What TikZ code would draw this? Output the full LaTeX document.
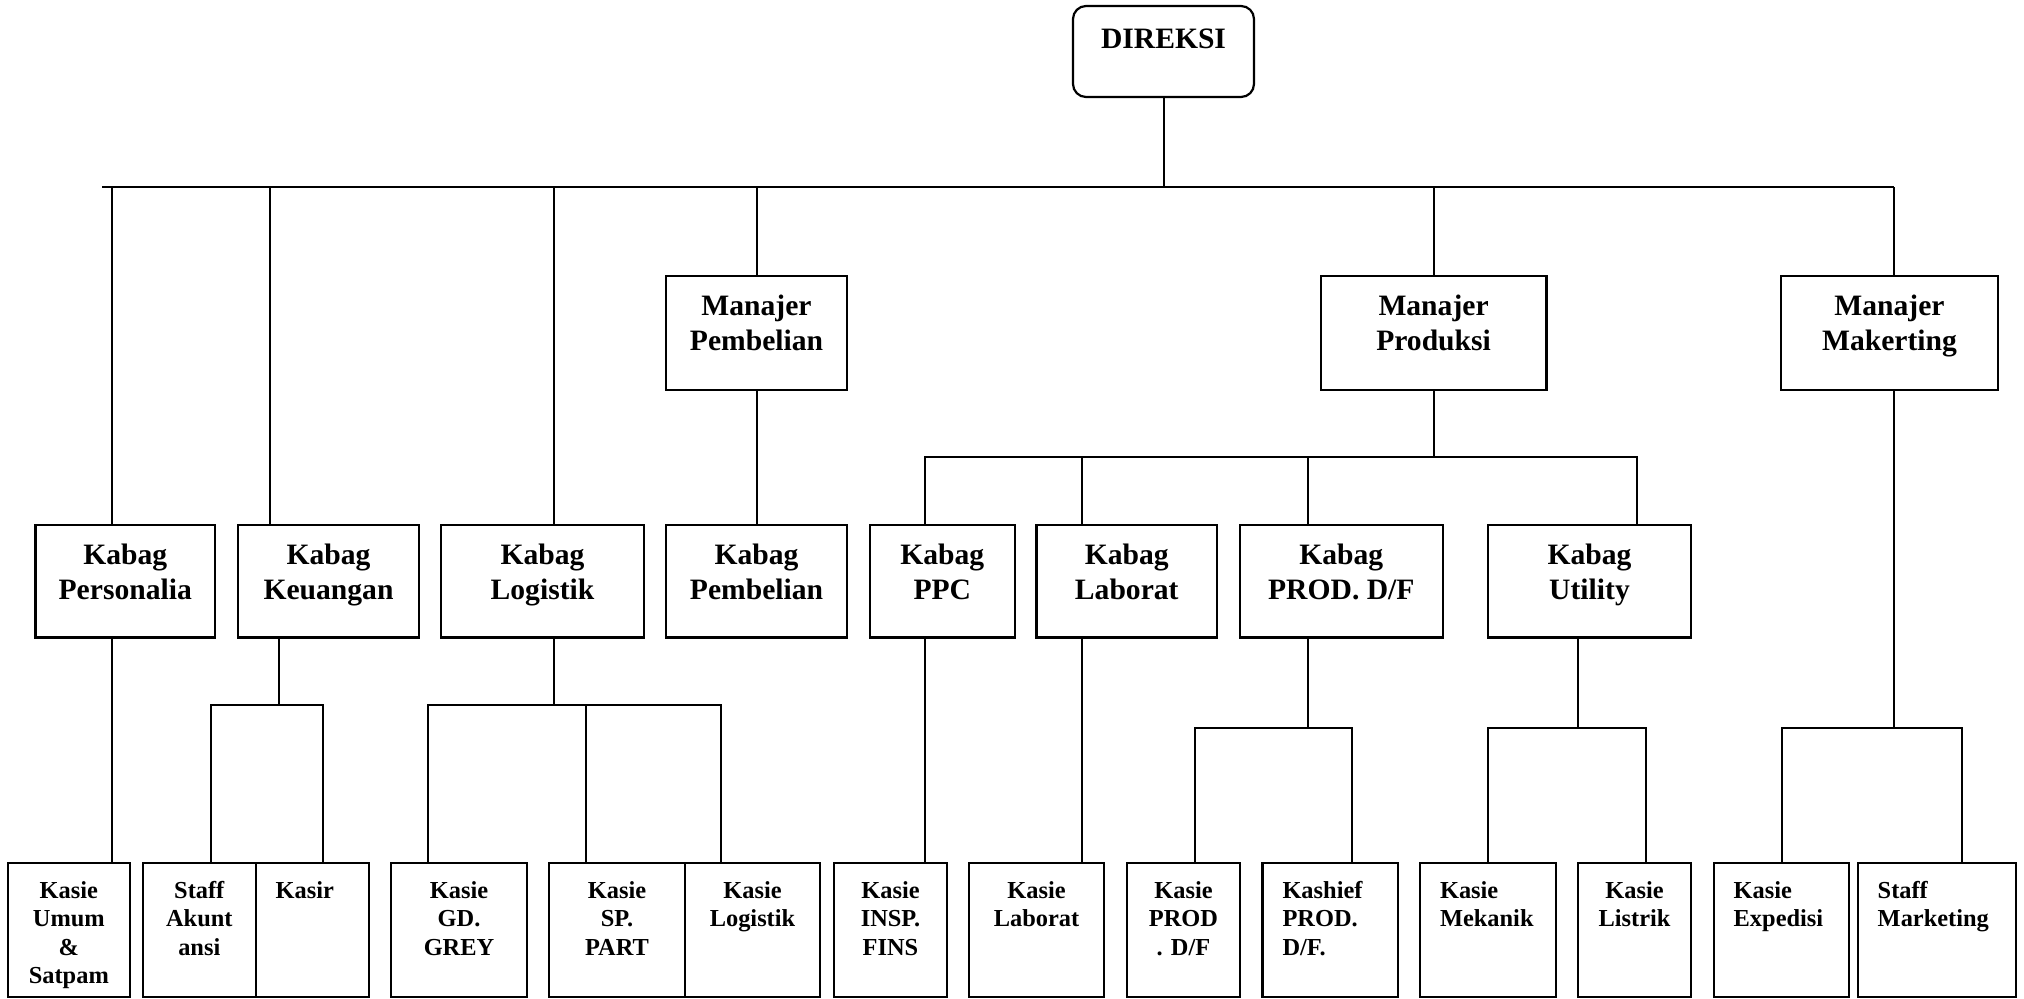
\documentclass[tikz,border=0pt]{standalone}
\usepackage{fontspec}
\setmainfont{Liberation Serif}

% box text: fixed-size parbox, lines hung from the top
% #1 width, #2 height, #3 depth of first baseline, #4 lines
\newcommand{\cbox}[4]{\parbox[c][#2][t]{#1}{\centering\rule{0pt}{#3}#4}}
\newcommand{\lbox}[4]{\parbox[c][#2][t]{#1}{\raggedright\hspace*{10pt}\rule{0pt}{#3}\begin{tabular}[t]{@{}l@{}}#4\end{tabular}}}

\tikzset{
  orgbox/.style={draw, line width=1.1pt, inner sep=0pt, rectangle},
  bigtext/.style={font=\fontsize{14.8}{17.5}\selectfont\bfseries},
  smalltext/.style={font=\fontsize{12.2}{14.25}\selectfont\bfseries},
  link/.style={line width=1pt}
}

\begin{document}
\begin{tikzpicture}[x=0.5pt, y=-0.5pt]
\useasboundingbox (0,0) rectangle (2024,998);

% top
\node[orgbox, bigtext, rounded corners=6.5pt] (dir) at (1163.5,51.5)
  {\cbox{90.5pt}{45.5pt}{21pt}{DIREKSI}};

% managers
\node[orgbox, bigtext] (mpemb) at (756.5,333) {\cbox{90.5pt}{57pt}{19.5pt}{Manajer\\Pembelian}};
\node[orgbox, bigtext] (mprod) at (1433.55,333) {\cbox{112.95pt}{57pt}{19.5pt}{Manajer\\Produksi}};
\node[orgbox, bigtext] (mmark) at (1889.5,333) {\cbox{108.5pt}{57pt}{19.5pt}{Manajer\\Makerting}};

% heads of department
\node[orgbox, bigtext] (kpers) at (125.25,581.25) {\cbox{89.75pt}{56.25pt}{19.5pt}{Kabag\\Personalia}};
\node[orgbox, bigtext] (kkeu) at (328.5,581.25) {\cbox{90.5pt}{56.25pt}{19.5pt}{Kabag\\Keuangan}};
\node[orgbox, bigtext] (klog) at (542.5,581.25) {\cbox{101.5pt}{56.25pt}{19.5pt}{Kabag\\Logistik}};
\node[orgbox, bigtext] (kpemb) at (756.5,581.25) {\cbox{90.5pt}{56.25pt}{19.5pt}{Kabag\\Pembelian}};
\node[orgbox, bigtext] (kppc) at (942.3,581.25) {\cbox{72.3pt}{56.25pt}{19.5pt}{Kabag\\PPC}};
\node[orgbox, bigtext] (klab) at (1126.75,581.25) {\cbox{90.25pt}{56.25pt}{19.5pt}{Kabag\\Laborat}};
\node[orgbox, bigtext] (kprod) at (1341.3,581.25) {\cbox{101.3pt}{56.25pt}{19.5pt}{Kabag\\PROD. D/F}};
\node[orgbox, bigtext] (kutil) at (1589.5,581.25) {\cbox{101.5pt}{56.25pt}{19.5pt}{Kabag\\Utility}};

% section heads and staff
\node[orgbox, smalltext] (kumum) at (68.85,930) {\cbox{61.15pt}{67pt}{17.5pt}{Kasie\\Umum\\\&\\Satpam}};
\node[orgbox, smalltext] (sakun) at (199.3,930) {\cbox{56.3pt}{67pt}{17.5pt}{Staff\\Akunt\\ansi}};
\node[orgbox, smalltext] (kasir) at (312.1,930) {\lbox{56.5pt}{67pt}{17.5pt}{Kasir}};
\node[orgbox, smalltext] (kgd) at (459,930) {\cbox{68pt}{67pt}{17.5pt}{Kasie\\GD.\\GREY}};
\node[orgbox, smalltext] (ksp) at (617,930) {\cbox{68pt}{67pt}{17.5pt}{Kasie\\SP.\\PART}};
\node[orgbox, smalltext] (klogk) at (752.5,930) {\cbox{67.5pt}{67pt}{17.5pt}{Kasie\\Logistik}};
\node[orgbox, smalltext] (kinsp) at (890.5,930) {\cbox{56.5pt}{67pt}{17.5pt}{Kasie\\INSP.\\FINS}};
\node[orgbox, smalltext] (klabk) at (1036.5,930) {\cbox{67.5pt}{67pt}{17.5pt}{Kasie\\Laborat}};
\node[orgbox, smalltext] (kprodk) at (1183.5,930) {\cbox{56.5pt}{67pt}{17.5pt}{Kasie\\PROD\\. D/F}};
\node[orgbox, smalltext] (kashief) at (1330.25,930) {\lbox{67.75pt}{67pt}{17.5pt}{Kashief\\PROD.\\D/F.}};
\node[orgbox, smalltext] (kmek) at (1487.8,930) {\lbox{67.8pt}{67pt}{17.5pt}{Kasie\\Mekanik}};
\node[orgbox, smalltext] (klis) at (1634.5,930) {\cbox{56.5pt}{67pt}{17.5pt}{Kasie\\Listrik}};
\node[orgbox, smalltext] (kexp) at (1781.2,930) {\lbox{67.5pt}{67pt}{17.5pt}{Kasie\\Expedisi}};
\node[orgbox, smalltext] (smark) at (1936.85,930) {\lbox{79.15pt}{67pt}{17.5pt}{Staff\\Marketing}};

% junction points
\coordinate (busW) at (102,187);
\coordinate (jPers) at (111.7,187);
\coordinate (jKeu) at (270,187);
\coordinate (jLog) at (554,187);
\coordinate (jPemb) at (756.6,187);
\coordinate (jProd) at (1433.6,187);
\coordinate (jMark) at (1894,187);

\coordinate (keuJ) at (279,705);
\coordinate (keuL) at (211,705);
\coordinate (keuR) at (323.4,705);

\coordinate (logL) at (428,705);
\coordinate (logM) at (585.5,705);
\coordinate (logR) at (721,705);

\coordinate (prodL) at (924.5,457);
\coordinate (labJ) at (1081.7,457);
\coordinate (pdfJ) at (1307.7,457);
\coordinate (prodR) at (1637,457);

\coordinate (pdfL) at (1194.7,728);
\coordinate (pdfR) at (1352,728);
\coordinate (utJ) at (1578,728);
\coordinate (utL) at (1487.8,728);
\coordinate (utR) at (1646,728);
\coordinate (mkL) at (1781.5,728);
\coordinate (mkR) at (1961.6,728);

% main bus
\draw[link] (dir.south) -- (dir.south |- busW);
\draw[link] (busW) -- (jMark);
\draw[link] (jPers) -- (jPers |- kpers.north);
\draw[link] (jPers |- kpers.south) -- (jPers |- kumum.north);
\draw[link] (jKeu) -- (jKeu |- kkeu.north);
\draw[link] (jLog) -- (jLog |- klog.north);
\draw[link] (jPemb) -- (jPemb |- mpemb.north);
\draw[link] (jPemb |- mpemb.south) -- (jPemb |- kpemb.north);
\draw[link] (jProd) -- (jProd |- mprod.north);
\draw[link] (jMark) -- (jMark |- mmark.north);

% finance
\draw[link] (keuJ |- kkeu.south) -- (keuJ);
\draw[link] (keuL |- sakun.north) -- (keuL) -- (keuR) -- (keuR |- kasir.north);

% logistics
\draw[link] (jLog |- klog.south) -- (jLog |- logL);
\draw[link] (logL |- kgd.north) -- (logL) -- (logR) -- (logR |- klogk.north);
\draw[link] (logM) -- (logM |- ksp.north);

% production
\draw[link] (jProd |- mprod.south) -- (jProd |- prodL);
\draw[link] (prodL |- kppc.north) -- (prodL) -- (prodR) -- (prodR |- kutil.north);
\draw[link] (labJ) -- (labJ |- klab.north);
\draw[link] (pdfJ) -- (pdfJ |- kprod.north);
\draw[link] (prodL |- kppc.south) -- (prodL |- kinsp.north);
\draw[link] (labJ |- klab.south) -- (labJ |- klabk.north);

\draw[link] (pdfJ |- kprod.south) -- (pdfJ |- pdfL);
\draw[link] (pdfL |- kprodk.north) -- (pdfL) -- (pdfR) -- (pdfR |- kashief.north);

\draw[link] (utJ |- kutil.south) -- (utJ);
\draw[link] (utL |- kmek.north) -- (utL) -- (utR) -- (utR |- klis.north);

% marketing
\draw[link] (jMark |- mmark.south) -- (jMark |- mkL);
\draw[link] (mkL |- kexp.north) -- (mkL) -- (mkR) -- (mkR |- smark.north);
\end{tikzpicture}
\end{document}
